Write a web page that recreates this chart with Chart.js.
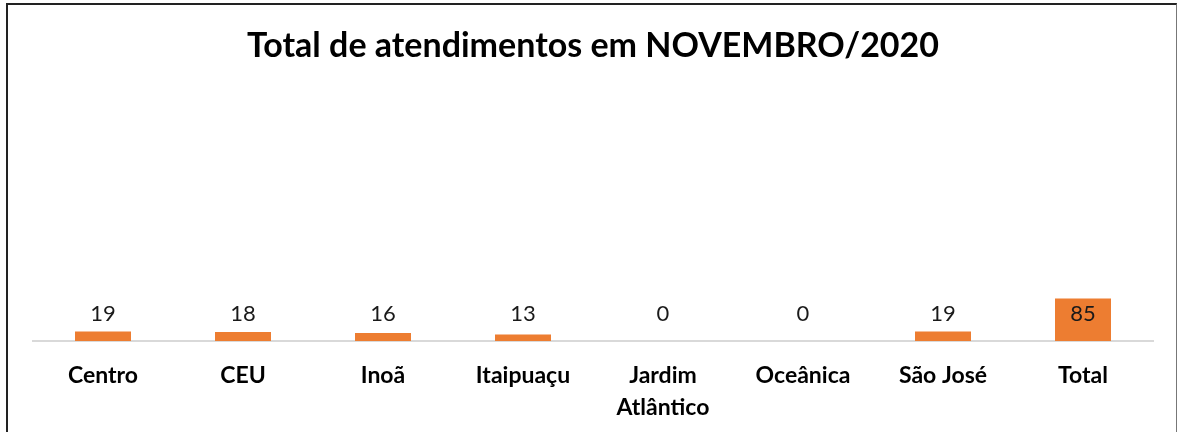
<!DOCTYPE html>
<html>
<head>
<meta charset="utf-8">
<script src="https://cdn.jsdelivr.net/npm/chart.js@4"></script>
<style>
  html, body { margin: 0; padding: 0; background: #fff; }
  #wrap { position: relative; width: 1178px; height: 432px; overflow: hidden; }
  #frame {
    position: absolute; left: 6px; top: 3px; right: 1px; bottom: -4px;
    border-left: 2px solid #222; border-top: 2px solid #222; border-right: 1px solid #777;
    pointer-events: none;
  }
</style>
</head>
<body>
<div id="wrap">
  <canvas id="barChart" width="1178" height="443"></canvas>
  <div id="frame"></div>
</div>
<script>
const categories = ['Centro', 'CEU', 'Inoã', 'Itaipuaçu', ['Jardim', 'Atlântico'], 'Oceânica', 'São José', 'Total'];
const atendimentos = [19, 18, 16, 13, 0, 0, 19, 85];
const titleText = 'Total de atendimentos em NOVEMBRO/2020';

// value labels drawn at a fixed height above the axis line
const valueLabels = {
  id: 'valueLabels',
  afterDatasetsDraw(chart) {
    const ctx = chart.ctx;
    const meta = chart.getDatasetMeta(0);
    const base = chart.scales.y.getPixelForValue(0);
    ctx.save();
    ctx.font = '22px Lato';
    ctx.fillStyle = '#1a1a1a';
    ctx.textAlign = 'center';
    ctx.textBaseline = 'middle';
    meta.data.forEach((bar, i) => {
      ctx.fillText(String(atendimentos[i]), bar.x, base - 27);
    });
    ctx.restore();
  }
};

const barCtx = document.getElementById('barChart').getContext('2d');
const barChart = new Chart(barCtx, {
  type: 'bar',
  data: {
    labels: categories,
    datasets: [{
      data: atendimentos,
      backgroundColor: '#ed7d31',
      borderWidth: 0,
      barPercentage: 0.4,
      categoryPercentage: 1
    }]
  },
  options: {
    responsive: false,
    animation: false,
    layout: { padding: { left: 33, right: 25, top: 0, bottom: 0 } },
    plugins: {
      legend: { display: false },
      tooltip: { enabled: false },
      title: {
        display: true,
        text: titleText,
        color: '#000',
        font: { family: 'Lato', size: 34, weight: 'bold' },
        padding: { top: 26, bottom: 24 }
      }
    },
    scales: {
      x: {
        grid: { display: false, drawTicks: false },
        border: { display: true, color: '#d9d9d9', width: 2 },
        ticks: {
          color: '#000',
          font: { family: 'Lato', size: 23, weight: 'bold', lineHeight: 1.39 },
          padding: 19,
          maxRotation: 0
        }
      },
      y: {
        display: false,
        min: 0,
        max: 500
      }
    }
  },
  plugins: [valueLabels]
});
</script>
</body>
</html>
